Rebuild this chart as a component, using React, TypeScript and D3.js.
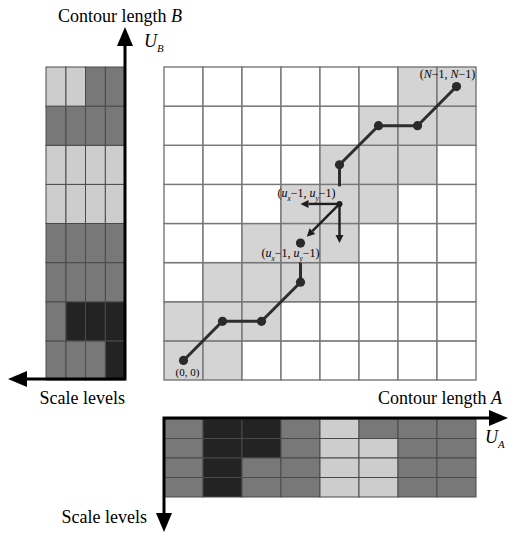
import * as d3 from "d3";
import React, { useRef, useEffect } from "react";

const steps = [0, 1, 2, 3, 4, 5, 6, 7];
const levels = [0, 1, 2, 3];

// shade of each scale level along contour B (bottom row first), level 0 next to the axis
const shadesB = [
  [3, 2, 2, 2],
  [3, 3, 3, 2],
  [2, 2, 2, 2],
  [2, 2, 2, 2],
  [1, 1, 1, 1],
  [1, 1, 1, 1],
  [2, 2, 2, 2],
  [2, 2, 1, 1],
];

// contour A, left column first, level 0 at the top
const shadesA = [
  [2, 2, 2, 2],
  [3, 3, 3, 3],
  [3, 3, 2, 2],
  [2, 2, 2, 2],
  [1, 1, 1, 1],
  [2, 1, 1, 1],
  [2, 2, 2, 2],
  [2, 2, 2, 2],
];

// searched band of the grid, per row from the bottom: [first col, last col]
const bandRows = [[0, 1], [0, 2], [1, 3], [2, 4], [3, 5], [4, 6], [5, 7], [6, 7]];

const pathBefore = [[0, 0], [1, 1], [2, 1], [3, 2]];
const stubBefore = [[3, 2], [3, 3]];
const pathAfter = [[4, 5], [5, 6], [6, 6], [7, 7]];
const stubAfter = [[4, 5], [4, 4]];
const current = [4, 4];
const predecessors = [[3, 4], [3, 3], [4, 3]];

type Part = { t: string; it?: boolean; sub?: boolean };

const App: React.FC = () => {
  const svgRef = useRef<SVGSVGElement | null>(null);

  useEffect(() => {
    const width = 510;
    const height = 533;
    const serif = "Liberation Serif";
    const shade: Record<number, string> = { 1: "#cdcdcd", 2: "#787878", 3: "#232323" };

    const svg = d3.select(svgRef.current)
      .attr("width", width)
      .attr("height", height)
      .style("background", "white")
      .html("");

    const x = d3.scaleBand<number>().domain(steps).range([164, 476]);
    const y = d3.scaleBand<number>().domain(steps).range([380, 67]);
    const bw = x.bandwidth();
    const bh = y.bandwidth();
    const cx = (i: number) => (x(i) || 0) + bw / 2;
    const cy = (j: number) => (y(j) || 0) + bh / 2;

    const levelX = d3.scaleBand<number>().domain(levels).range([125, 46]);
    const levelY = d3.scaleBand<number>().domain(levels).range([419, 497]);

    // main grid
    const cells = steps.flatMap(j => steps.map(i => ({ i, j })));
    svg.append("g")
      .selectAll("rect")
      .data(cells)
      .enter()
      .append("rect")
      .attr("x", d => x(d.i) || 0)
      .attr("y", d => y(d.j) || 0)
      .attr("width", bw)
      .attr("height", bh)
      .attr("fill", d => (d.i >= bandRows[d.j][0] && d.i <= bandRows[d.j][1] ? "#d4d4d4" : "white"))
      .attr("stroke", "#777")
      .attr("stroke-width", 1.4);

    // scale level bars
    const cellsB = steps.flatMap(j => levels.map(l => ({ j, l, v: shadesB[j][l] })));
    svg.append("g")
      .selectAll("rect")
      .data(cellsB)
      .enter()
      .append("rect")
      .attr("x", d => levelX(d.l) || 0)
      .attr("y", d => y(d.j) || 0)
      .attr("width", levelX.bandwidth())
      .attr("height", bh)
      .attr("fill", d => shade[d.v])
      .attr("stroke", "#4a4a4a")
      .attr("stroke-width", 1);

    const cellsA = steps.flatMap(i => levels.map(l => ({ i, l, v: shadesA[i][l] })));
    svg.append("g")
      .selectAll("rect")
      .data(cellsA)
      .enter()
      .append("rect")
      .attr("x", d => x(d.i) || 0)
      .attr("y", d => levelY(d.l) || 0)
      .attr("width", bw)
      .attr("height", levelY.bandwidth())
      .attr("fill", d => shade[d.v])
      .attr("stroke", "#4a4a4a")
      .attr("stroke-width", 1);

    // axes with arrows
    const axes = svg.append("g").attr("fill", "black");
    axes.append("path")
      .attr("d", "M125,44 V379 H24")
      .attr("fill", "none")
      .attr("stroke", "black")
      .attr("stroke-width", 3);
    axes.append("path").attr("d", "M125,27 L133,46 L117,46 Z");
    axes.append("path").attr("d", "M8,379 L27,371 L27,387 Z");
    axes.append("path")
      .attr("d", "M490,418 H164 V514")
      .attr("fill", "none")
      .attr("stroke", "black")
      .attr("stroke-width", 3);
    axes.append("path").attr("d", "M508,418 L489,410 L489,426 Z");
    axes.append("path").attr("d", "M164,532 L156,513 L172,513 Z");

    // warp path
    const line = d3.line<number[]>().x(d => cx(d[0])).y(d => cy(d[1]));
    const pathG = svg.append("g");
    [pathBefore, pathAfter].forEach(p => {
      pathG.append("path")
        .attr("d", line(p))
        .attr("fill", "none")
        .attr("stroke", "#2e2e2e")
        .attr("stroke-width", 3);
    });
    [[stubBefore, 0.49], [stubAfter, 0.55]].forEach(([s, f]) => {
      const [a, b] = s as number[][];
      const fr = f as number;
      pathG.append("line")
        .attr("x1", cx(a[0]))
        .attr("y1", cy(a[1]))
        .attr("x2", cx(a[0]) + (cx(b[0]) - cx(a[0])) * fr)
        .attr("y2", cy(a[1]) + (cy(b[1]) - cy(a[1])) * fr)
        .attr("stroke", "#2e2e2e")
        .attr("stroke-width", 3);
    });

    // arrows to the predecessors of the current cell
    predecessors.forEach(p => {
      const x1 = cx(current[0]);
      const y1 = cy(current[1]);
      const onPath = p[0] === stubBefore[1][0] && p[1] === stubBefore[1][1];
      const fr = onPath ? 0.84 : 1;
      const x2 = x1 + (cx(p[0]) - x1) * fr;
      const y2 = y1 + (cy(p[1]) - y1) * fr;
      const ang = Math.atan2(y2 - y1, x2 - x1);
      const hl = 8;
      const hw = 4;
      const bx = x2 - hl * Math.cos(ang);
      const by = y2 - hl * Math.sin(ang);
      pathG.append("line")
        .attr("x1", x1).attr("y1", y1)
        .attr("x2", bx).attr("y2", by)
        .attr("stroke", "#1e1e1e")
        .attr("stroke-width", 2.4);
      pathG.append("path")
        .attr("d", `M${x2},${y2} L${bx + hw * Math.sin(ang)},${by - hw * Math.cos(ang)} L${bx - hw * Math.sin(ang)},${by + hw * Math.cos(ang)} Z`)
        .attr("fill", "#1e1e1e");
    });

    const dots = [...pathBefore, stubBefore[1], ...pathAfter];
    pathG.selectAll(".dot")
      .data(dots)
      .enter()
      .append("circle")
      .attr("class", "dot")
      .attr("cx", d => cx(d[0]))
      .attr("cy", d => cy(d[1]))
      .attr("r", 4.6)
      .attr("fill", "#2a2a2a");
    pathG.append("circle")
      .attr("cx", cx(current[0]))
      .attr("cy", cy(current[1]))
      .attr("r", 3)
      .attr("fill", "#1e1e1e");

    // rich text helper
    const rich = (px: number, py: number, size: number, anchor: string, parts: Part[]) => {
      const t = svg.append("text")
        .attr("x", px)
        .attr("y", py)
        .attr("text-anchor", anchor)
        .attr("font-family", serif)
        .attr("font-size", size)
        .attr("fill", "#000");
      let shifted = false;
      parts.forEach(p => {
        const s = t.append("tspan").text(p.t);
        if (p.it) s.attr("font-style", "italic");
        if (p.sub && !shifted) {
          s.attr("dy", size * 0.3).attr("font-size", size * 0.6);
          shifted = true;
        } else if (!p.sub && shifted) {
          s.attr("dy", -size * 0.3);
          shifted = false;
        } else if (p.sub) {
          s.attr("font-size", size * 0.6);
        }
      });
      return t;
    };

    rich(58, 22, 18, "start", [{ t: "Contour length " }, { t: "B", it: true }]);
    rich(144, 47, 18, "start", [{ t: "U", it: true }, { t: "B", it: true, sub: true }]);
    rich(125, 404, 18, "end", [{ t: "Scale levels" }]);
    rich(502, 404, 18, "end", [{ t: "Contour length " }, { t: "A", it: true }]);
    rich(485, 443, 18, "start", [{ t: "U", it: true }, { t: "A", it: true, sub: true }]);
    rich(147, 523, 18, "end", [{ t: "Scale levels" }]);

    rich(cx(0) + 4, 376, 11, "middle", [{ t: "(0, 0)" }]);
    rich(cx(7) - 9, 78, 12, "middle", [
      { t: "(" }, { t: "N", it: true }, { t: "−1, " }, { t: "N", it: true }, { t: "−1)" },
    ]);
    const uLabel: Part[] = [
      { t: "(" }, { t: "u", it: true }, { t: "x", it: true, sub: true }, { t: "−1, " },
      { t: "u", it: true }, { t: "y", it: true, sub: true }, { t: "−1)" },
    ];
    rich(cx(3) + 6, 197, 12, "middle", uLabel);
    rich(cx(3) - 10, 257, 12, "middle", uLabel);
  }, []);

  return <svg ref={svgRef} style={{ position: "absolute", left: 0, top: 0 }}></svg>;
};

export default App;
